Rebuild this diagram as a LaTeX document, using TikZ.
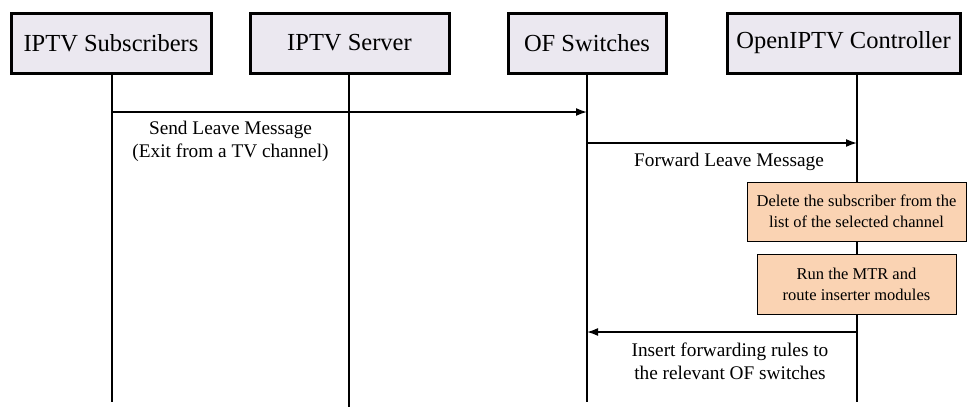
\documentclass[tikz,border=0pt]{standalone}
\usepackage{fontspec}
\setmainfont{Liberation Serif}
\usetikzlibrary{arrows.meta}
\definecolor{actorfill}{HTML}{EBE8F0}
\definecolor{stepfill}{HTML}{FAD3B3}
\tikzset{
  actor/.style={draw=black, line width=3pt, fill=actorfill, minimum height=60pt,
    inner sep=0pt, font=\fontsize{24.5}{28}\selectfont},
  lifeline/.style={line width=1.6pt},
  msg/.style={line width=1.6pt, -{Latex[length=11pt,width=8pt]}},
  msglabel/.style={align=center, font=\fontsize{19.3}{23}\selectfont, inner sep=0pt},
  stepbox/.style={draw=black, line width=1pt, fill=stepfill, align=center,
    inner sep=0pt, font=\fontsize{16.5}{21}\selectfont}
}
\begin{document}
\begin{tikzpicture}[x=1pt, y=-1pt]
\useasboundingbox (0,0) rectangle (967,407);

% participants
\node[actor, minimum width=200pt] (sub) at (111,43) {IPTV Subscribers};
\node[actor, minimum width=199pt] (srv) at (349.5,43) {IPTV Server};
\node[actor, minimum width=158pt] (ofs) at (587,43) {OF Switches};
\node[actor, minimum width=233pt] (ctl) at (843.5,43) {OpenIPTV Controller};

% lifeline ends
\coordinate (subtop) at (112,73);
\coordinate (subend) at (112,402);
\coordinate (srvtop) at (349,73);
\coordinate (srvend) at (349,407);
\coordinate (ofstop) at (587,73);
\coordinate (ofsend) at (587,402);
\coordinate (ctltop) at (857,73);
\coordinate (ctlend) at (857,402);

\draw[lifeline] (subtop) -- (subend);
\draw[lifeline] (srvtop) -- (srvend);
\draw[lifeline] (ofstop) -- (ofsend);
\draw[lifeline] (ctltop) -- (ctlend);

% message anchors on the lifelines
\coordinate (m1a) at (112,112);
\coordinate (m1b) at (587,112);
\coordinate (m2a) at (587,143);
\coordinate (m2b) at (857,143);
\coordinate (m3a) at (857,332);
\coordinate (m3b) at (587,332);

\draw[msg] (m1a) -- (m1b);
\node[msglabel] (l1) at (230.5,141.5) {Send Leave Message\\(Exit from a TV channel)};

\draw[msg] (m2a) -- (m2b);
\node[msglabel] (l2) at (729,162) {Forward Leave Message};

% controller processing steps
\node[stepbox, minimum width=219pt, minimum height=59pt] (s1) at (856.5,211.5)
  {Delete the subscriber from the\\list of the selected channel};
\node[stepbox, minimum width=199pt, minimum height=60pt] (s2) at (856.5,284)
  {Run the MTR and\\route inserter modules};

\draw[msg] (m3a) -- (m3b);
\node[msglabel] (l3) at (730,361) {Insert forwarding rules to\\the relevant OF switches};
\end{tikzpicture}
\end{document}
